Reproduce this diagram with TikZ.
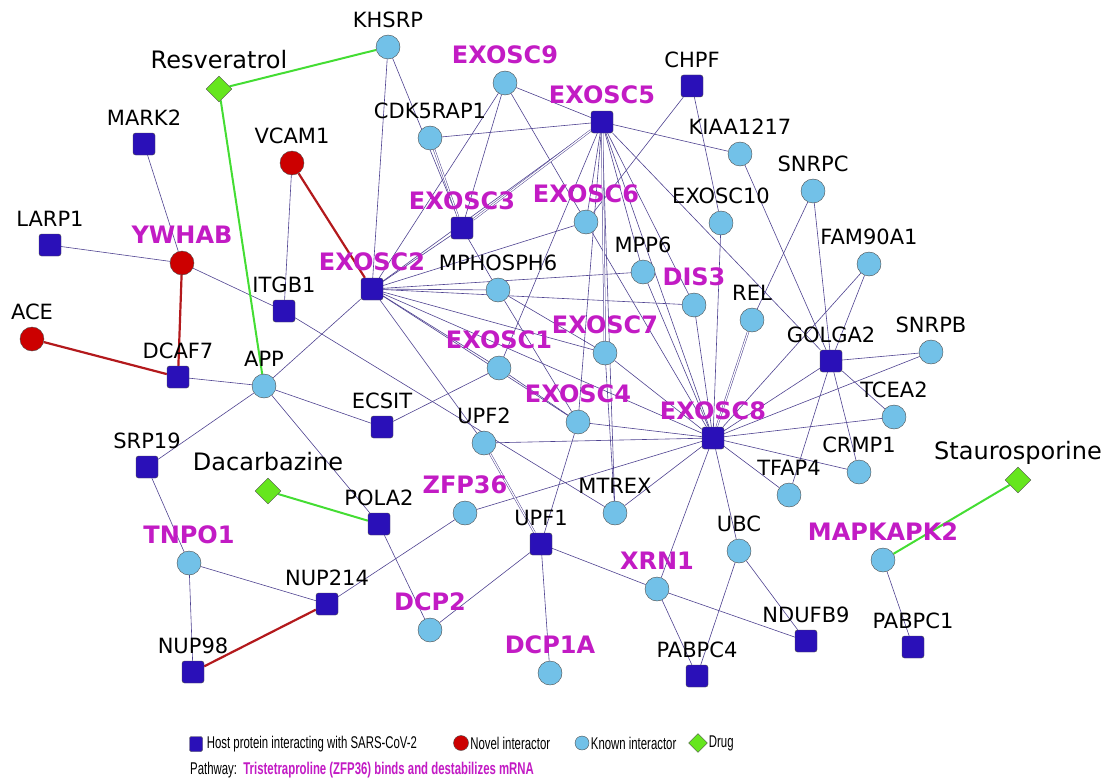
\documentclass[tikz,border=0pt]{standalone}
\usepackage{fontspec}
\setmainfont{DejaVu Sans}
\newfontfamily\legendfont[FakeStretch=0.67]{Liberation Sans}
\usepackage{tikz}
\usetikzlibrary{shapes.geometric,positioning,backgrounds}
\usepackage{xcolor}
\definecolor{hostblue}{HTML}{2A10B8}
\definecolor{knownblue}{HTML}{72C1E8}
\definecolor{novelred}{HTML}{CC0000}
\definecolor{druggreen}{HTML}{66E61E}
\definecolor{edgeviolet}{HTML}{4E4290}
\definecolor{edgered}{HTML}{B3191C}
\definecolor{edgegreen}{HTML}{44DD33}
\definecolor{pathmagenta}{HTML}{C21BC4}

\begin{document}
\begin{tikzpicture}[
  x=1pt, y=-1pt,
  label distance=7pt,
  host/.style={rectangle, draw=black!70, fill=hostblue, rounded corners=2.5pt, minimum size=22pt, inner sep=0pt},
  known/.style={circle, draw=black!70, fill=knownblue, minimum size=24pt, inner sep=0pt},
  novel/.style={circle, draw=black!70, fill=novelred, minimum size=24pt, inner sep=0pt},
  drug/.style={diamond, draw=black!70, fill=druggreen, minimum size=26pt, inner sep=0pt},
  lbl/.style={font=\fontsize{21}{21}\selectfont, inner sep=0pt, text depth=0pt},
  plbl/.style={font=\fontsize{24}{24}\selectfont\bfseries, text=pathmagenta, inner sep=0pt, text depth=0pt},
  dlbl/.style={font=\fontsize{24}{24}\selectfont, inner sep=0pt, text depth=0pt},
  link/.style={draw=edgeviolet, line width=0.6pt},
  dlink/.style={draw=edgeviolet, line width=0.5pt, double=white, double distance=1.2pt},
  rlink/.style={draw=edgered, line width=2.2pt},
  glink/.style={draw=edgegreen, line width=2pt},
  legtxt/.style={font=\legendfont\fontsize{17}{17}\selectfont, inner sep=0pt, anchor=west}
]
  \useasboundingbox (0,0) rectangle (1109,784);

  % --- Left side: novel interactors and drugs ---
  \node[drug, label={[dlbl]above:Resveratrol}] (resveratrol) at (219,89) {};
  \node[host, label={[lbl]above:MARK2}] (mark2) at (144,144) {};
  \node[novel, label={[lbl]above:VCAM1}] (vcam1) at (292,163) {};
  \node[host, label={[lbl]above:LARP1}] (larp1) at (50,245) {};
  \node[novel, label={[plbl]above:YWHAB}] (ywhab) at (182,263) {};
  \node[host, label={[lbl]above:ITGB1}] (itgb1) at (284,311) {};
  \node[novel, label={[lbl]above:ACE}] (ace) at (32,339) {};
  \node[host, label={[lbl]above:DCAF7}] (dcaf7) at (178,377) {};
  \node[known, label={[lbl]above:APP}] (app) at (264,386) {};
  \node[host, label={[lbl]above:ECSIT}] (ecsit) at (382,427) {};
  \node[host, label={[lbl]above:SRP19}] (srp19) at (147,467) {};
  \node[drug, label={[dlbl]above:Dacarbazine}] (dacarbazine) at (268,491) {};
  \node[host, label={[lbl]above:POLA2}] (pola2) at (379,524) {};
  \node[known, label={[plbl]above:TNPO1}] (tnpo1) at (189,563) {};
  \node[host, label={[lbl]above:NUP214}] (nup214) at (327,604) {};
  \node[host, label={[lbl]above:NUP98}] (nup98) at (193,672) {};

  % --- Exosome core ---
  \node[known, label={[lbl]above:KHSRP}] (khsrp) at (388,47) {};
  \node[known, label={[plbl]above:EXOSC9}] (exosc9) at (505,83) {};
  \node[host, label={[lbl]above:CHPF}] (chpf) at (692,86) {};
  \node[host, label={[plbl]above:EXOSC5}] (exosc5) at (602,122) {};
  \node[known, label={[lbl]above:CDK5RAP1}] (cdk5rap1) at (430,138) {};
  \node[known, label={[lbl]above:KIAA1217}] (kiaa1217) at (740,154) {};
  \node[known, label={[lbl]above:SNRPC}] (snrpc) at (813,191) {};
  \node[host, label={[plbl]above:EXOSC3}] (exosc3) at (462,228) {};
  \node[known, label={[plbl]above:EXOSC6}] (exosc6) at (586,222) {};
  \node[known, label={[lbl]above:EXOSC10}] (exosc10) at (721,223) {};
  \node[known, label={[lbl]above:FAM90A1}] (fam90a1) at (869,264) {};
  \node[known, label={[lbl]above:MPP6}] (mpp6) at (643,272) {};
  \node[host, label={[plbl]above:EXOSC2}] (exosc2) at (372,289) {};
  \node[known, label={[lbl]above:MPHOSPH6}] (mphosph6) at (498,290) {};
  \node[known, label={[plbl]above:DIS3}] (dis3) at (694,305) {};
  \node[known, label={[lbl]above:REL}] (rel) at (752,320) {};
  \node[host, label={[lbl]above:GOLGA2}] (golga2) at (831,361) {};
  \node[known, label={[lbl]above:SNRPB}] (snrpb) at (931,352) {};
  \node[known, label={[plbl]above:EXOSC7}] (exosc7) at (605,353) {};
  \node[known, label={[plbl]above:EXOSC1}] (exosc1) at (499,368) {};
  \node[known, label={[lbl]above:TCEA2}] (tcea2) at (894,417) {};
  \node[known, label={[plbl]above:EXOSC4}] (exosc4) at (578,422) {};
  \node[host, label={[plbl]above:EXOSC8}] (exosc8) at (713,438) {};
  \node[known, label={[lbl]above:UPF2}] (upf2) at (484,443) {};
  \node[known, label={[lbl]above:CRMP1}] (crmp1) at (859,472) {};
  \node[known, label={[lbl]above:TFAP4}] (tfap4) at (789,495) {};
  \node[drug, label={[dlbl]above:Staurosporine}] (staurosporine) at (1018,480) {};

  % --- Lower part: decay factors ---
  \node[known, label={[plbl]above:ZFP36}] (zfp36) at (465,513) {};
  \node[known, label={[lbl]above:MTREX}] (mtrex) at (615,513) {};
  \node[host, label={[lbl]above:UPF1}] (upf1) at (541,544) {};
  \node[known, label={[lbl]above:UBC}] (ubc) at (739,551) {};
  \node[known, label={[plbl]above:MAPKAPK2}] (mapkapk2) at (883,560) {};
  \node[known, label={[plbl]above:XRN1}] (xrn1) at (657,589) {};
  \node[known, label={[plbl]above:DCP2}] (dcp2) at (430,630) {};
  \node[host, label={[lbl]above:NDUFB9}] (ndufb9) at (806,641) {};
  \node[host, label={[lbl]above:PABPC1}] (pabpc1) at (913,647) {};
  \node[known, label={[plbl]above:DCP1A}] (dcp1a) at (550,673) {};
  \node[host, label={[lbl]above:PABPC4}] (pabpc4) at (697,676) {};

  % --- Interactions (behind the nodes) ---
  \begin{scope}[on background layer]
    \foreach \a/\b in {mark2/ywhab, larp1/ywhab, ywhab/itgb1, vcam1/itgb1, dcaf7/app, app/exosc2,
      app/ecsit, app/srp19, app/pola2, itgb1/mtrex, ecsit/exosc1, srp19/tnpo1, tnpo1/nup214,
      tnpo1/nup98, nup214/zfp36, pola2/dcp2, zfp36/exosc8, upf1/dcp2, upf1/dcp1a, upf1/exosc4,
      upf1/xrn1, xrn1/ndufb9, xrn1/exosc8, xrn1/pabpc4, ubc/pabpc4, ubc/ndufb9, ubc/exosc8,
      mapkapk2/pabpc1, khsrp/exosc2, khsrp/exosc3, cdk5rap1/exosc5, exosc9/exosc5, exosc9/exosc3,
      exosc9/exosc2, exosc9/exosc6, exosc5/exosc2, exosc5/exosc6, exosc5/exosc1, exosc5/exosc4,
      exosc5/mpp6, exosc5/dis3, exosc5/exosc8, exosc5/mtrex, exosc5/kiaa1217, exosc5/golga2,
      chpf/exosc6, chpf/exosc10, exosc3/exosc2, exosc3/mphosph6, exosc2/exosc6, exosc2/mphosph6,
      exosc2/mpp6, exosc2/dis3, exosc2/exosc7, exosc2/exosc1, exosc2/exosc4, exosc2/exosc8,
      exosc2/upf2, exosc6/exosc8, mphosph6/exosc7, mphosph6/exosc4, exosc1/exosc4, exosc7/mtrex,
      exosc7/exosc8, exosc4/exosc8, upf2/exosc8, mtrex/exosc8, mpp6/exosc8, dis3/exosc8,
      exosc10/exosc8, golga2/exosc8, snrpb/exosc8, tcea2/exosc8, crmp1/exosc8, tfap4/exosc8,
      fam90a1/exosc8, kiaa1217/golga2, snrpc/golga2, snrpc/rel, fam90a1/golga2, golga2/snrpb,
      golga2/tcea2, golga2/crmp1, golga2/tfap4}
      \draw[link] (\a) -- (\b);
    \foreach \a/\b in {upf2/upf1, cdk5rap1/exosc3, exosc5/exosc3, exosc5/exosc7, rel/exosc8}
      \draw[dlink] (\a) -- (\b);
    \foreach \a/\b in {vcam1/exosc2, ywhab/dcaf7, ace/dcaf7, nup98/nup214}
      \draw[rlink] (\a) -- (\b);
    \foreach \a/\b in {resveratrol/khsrp, resveratrol/app, dacarbazine/pola2, staurosporine/mapkapk2}
      \draw[glink] (\a) -- (\b);
  \end{scope}

  % --- Legend ---
  \node[host, minimum width=13pt, minimum height=15pt, rounded corners=1.5pt] (keyhost) at (196,744) {};
  \node[legtxt, right=4pt of keyhost.east] (keyhosttxt) {Host protein interacting with SARS-CoV-2};
  \node[novel, minimum size=15pt] (keynovel) at (461,743) {};
  \node[legtxt, right=1.5pt of keynovel.east] (keynoveltxt) {Novel interactor};
  \node[known, minimum size=14pt] (keyknown) at (582,743) {};
  \node[legtxt, right=1.5pt of keyknown.east] (keyknowntxt) {Known interactor};
  \node[drug, minimum size=19pt] (keydrug) at (698,743) {};
  \node[legtxt, right=1pt of keydrug.east] (keydrugtxt) {Drug};
  \node[legtxt] (pathway) at (190,770) {Pathway:\ \ {\bfseries\color{pathmagenta}Tristetraproline (ZFP36) binds and destabilizes mRNA}};

\end{tikzpicture}
\end{document}
